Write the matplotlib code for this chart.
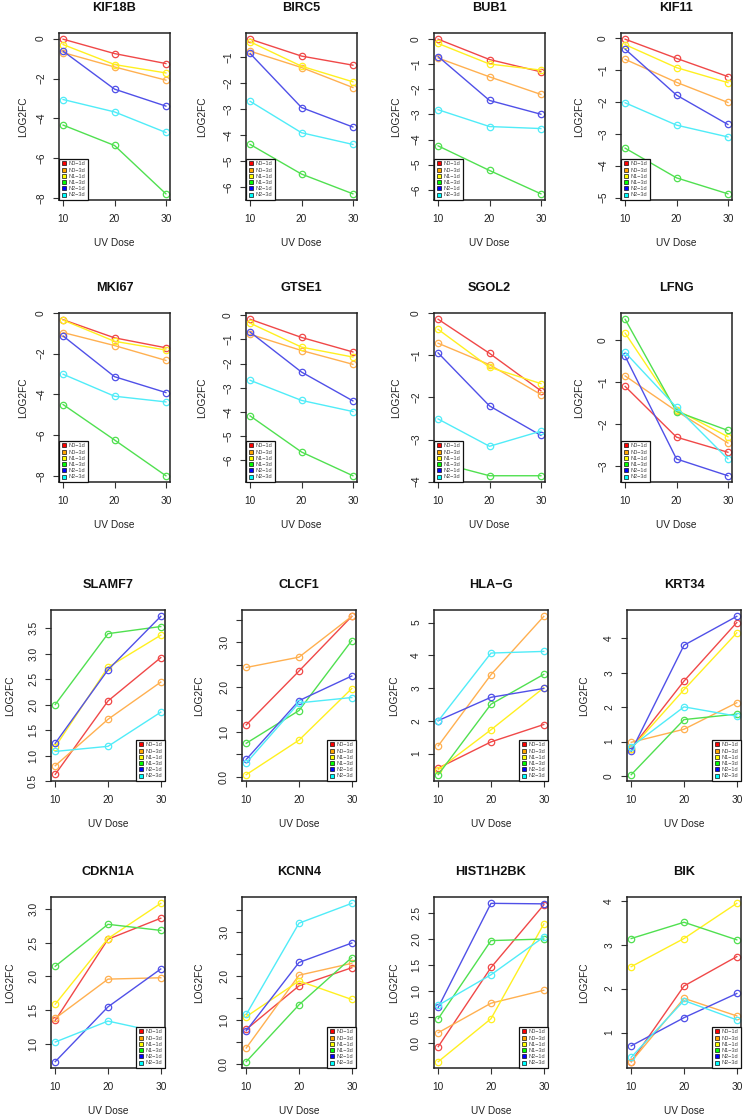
import matplotlib
matplotlib.use('Agg')
import matplotlib.pyplot as plt
from matplotlib.lines import Line2D

plt.rcParams['font.family'] = ['Liberation Sans', 'DejaVu Sans']

W, H = 745, 1119

dose = [10, 20, 30]
series = ['N0\u22121d', 'N0\u22123d', 'N1\u22121d', 'N1\u22123d', 'N2\u22121d', 'N2\u22123d']
colors = ['#FF0000', '#FFA500', '#FFFF00', '#00FF00', '#0000FF', '#00FFFF']
line_colors = ['#F04848', '#FFB050', '#FFF020', '#50E050', '#5050E8', '#50ECF8']

# values per gene: rows = series (N0-1d, N0-3d, N1-1d, N1-3d, N2-1d, N2-3d), cols = dose 10/20/30
kif18b = [[-0.03, -0.75, -1.25], [-0.70, -1.42, -2.08], [-0.30, -1.30, -1.72],
          [-4.33, -5.35, -7.77], [-0.63, -2.53, -3.38], [-3.05, -3.67, -4.70]]
birc5 = [[-0.32, -0.97, -1.32], [-0.78, -1.41, -2.18], [-0.42, -1.36, -1.96],
         [-4.37, -5.51, -6.27], [-0.87, -2.95, -3.70], [-2.71, -3.92, -4.37]]
bub1 = [[0.00, -0.81, -1.30], [-0.75, -1.50, -2.20], [-0.17, -0.99, -1.23],
        [-4.25, -5.23, -6.16], [-0.69, -2.44, -2.99], [-2.81, -3.48, -3.56]]
kif11 = [[-0.04, -0.64, -1.21], [-0.67, -1.39, -2.02], [-0.21, -0.93, -1.40],
         [-3.45, -4.38, -4.88], [-0.35, -1.79, -2.71], [-2.03, -2.73, -3.10]]
mki67 = [[-0.33, -1.22, -1.71], [-0.96, -1.60, -2.33], [-0.35, -1.39, -1.82],
         [-4.50, -6.24, -8.00], [-1.13, -3.13, -3.91], [-3.01, -4.09, -4.37]]
gtse1 = [[-0.17, -0.92, -1.52], [-0.79, -1.46, -2.03], [-0.33, -1.32, -1.73],
         [-4.16, -5.65, -6.63], [-0.70, -2.35, -3.54], [-2.69, -3.52, -3.98]]
sgol2 = [[-0.14, -0.95, -1.84], [-0.71, -1.22, -1.93], [-0.38, -1.28, -1.67],
         [-3.54, -3.86, -3.86], [-0.94, -2.20, -2.90], [-2.51, -3.16, -2.80]]
lfng = [[-1.10, -2.31, -2.67], [-0.85, -1.69, -2.45], [0.17, -1.66, -2.30],
        [0.50, -1.70, -2.15], [-0.38, -2.83, -3.23], [-0.29, -1.60, -2.83]]
slamf7 = [[0.63, 2.07, 2.92], [0.80, 1.71, 2.44], [1.17, 2.73, 3.36],
          [2.00, 3.39, 3.53], [1.24, 2.68, 3.73], [1.08, 1.18, 1.85]]
clcf1 = [[1.16, 2.36, 3.58], [2.44, 2.67, 3.58], [0.05, 0.82, 1.97],
         [0.75, 1.48, 3.04], [0.39, 1.70, 2.25], [0.31, 1.65, 1.77]]
hlag = [[0.56, 1.36, 1.89], [1.24, 3.41, 5.19], [0.51, 1.73, 3.01],
        [0.36, 2.51, 3.42], [2.01, 2.72, 2.99], [2.00, 4.07, 4.12]]
krt34 = [[0.80, 2.76, 4.46], [0.98, 1.36, 2.13], [0.80, 2.51, 4.16],
         [0.04, 1.64, 1.80], [0.72, 3.80, 4.64], [0.85, 2.01, 1.74]]
cdkn1a = [[1.35, 2.55, 2.86], [1.38, 1.96, 1.98], [1.59, 2.56, 3.08],
          [2.15, 2.77, 2.68], [0.74, 1.55, 2.11], [1.03, 1.34, 1.17]]
kcnn4 = [[0.79, 1.78, 2.19], [0.37, 2.02, 2.29], [1.08, 1.89, 1.47],
         [0.06, 1.35, 2.42], [0.76, 2.31, 2.75], [1.13, 3.20, 3.65]]
hist1h2bk = [[-0.08, 1.45, 2.66], [0.19, 0.76, 1.01], [-0.37, 0.46, 2.29],
             [0.46, 1.97, 2.00], [0.68, 2.69, 2.68], [0.72, 1.31, 2.04]]
bik = [[0.34, 2.06, 2.73], [0.34, 1.78, 1.38], [2.50, 3.14, 3.94],
       [3.14, 3.51, 3.11], [0.70, 1.34, 1.89], [0.44, 1.73, 1.29]]

genes = ['KIF18B', 'BIRC5', 'BUB1', 'KIF11',
         'MKI67', 'GTSE1', 'SGOL2', 'LFNG',
         'SLAMF7', 'CLCF1', 'HLA\u2212G', 'KRT34',
         'CDKN1A', 'KCNN4', 'HIST1H2BK', 'BIK']
gene_values = [kif18b, birc5, bub1, kif11, mki67, gtse1, sgol2, lfng,
               slamf7, clcf1, hlag, krt34, cdkn1a, kcnn4, hist1h2bk, bik]

M = '\u2212'
ytick_values = [
    [0, -2, -4, -6, -8], [-1, -2, -3, -4, -5, -6], [0, -1, -2, -3, -4, -5, -6], [0, -1, -2, -3, -4, -5],
    [0, -2, -4, -6, -8], [0, -1, -2, -3, -4, -5, -6], [0, -1, -2, -3, -4], [0, -1, -2, -3],
    [0.5, 1.0, 1.5, 2.0, 2.5, 3.0, 3.5], [0.0, 0.5, 1.0, 1.5, 2.0, 2.5, 3.0, 3.5], [1, 2, 3, 4, 5], [0, 1, 2, 3, 4],
    [1.0, 1.5, 2.0, 2.5, 3.0], [0.0, 0.5, 1.0, 1.5, 2.0, 2.5, 3.0, 3.5], [0.0, 0.5, 1.0, 1.5, 2.0, 2.5], [1, 2, 3, 4],
]
ytick_labels = [
    ['0', M+'2', M+'4', M+'6', M+'8'], [M+'1', M+'2', M+'3', M+'4', M+'5', M+'6'],
    ['0', M+'1', M+'2', M+'3', M+'4', M+'5', M+'6'], ['0', M+'1', M+'2', M+'3', M+'4', M+'5'],
    ['0', M+'2', M+'4', M+'6', M+'8'], ['0', M+'1', M+'2', M+'3', M+'4', M+'5', M+'6'],
    ['0', M+'1', M+'2', M+'3', M+'4'], ['0', M+'1', M+'2', M+'3'],
    ['0.5', '1.0', '1.5', '2.0', '2.5', '3.0', '3.5'], ['0.0', '', '1.0', '', '2.0', '', '3.0', ''],
    ['1', '2', '3', '4', '5'], ['0', '1', '2', '3', '4'],
    ['1.0', '1.5', '2.0', '2.5', '3.0'], ['0.0', '', '1.0', '', '2.0', '', '3.0', ''],
    ['0.0', '0.5', '1.0', '1.5', '2.0', '2.5'], ['1', '2', '3', '4'],
]
xtick_labels = ['10', '20', '30']

# layout (pixel boxes)
row_bounds = [(33, 200), (313, 482), (610, 781), (897, 1068)]
col_lefts_top = [59, 246, 434, 621]
col_lefts_bot = [51, 242, 434, 627]
ylab_off_top = [36, 44, 38, 42]
ylab_off_bot = [41, 43, 40, 43]
w_top, w_bot = 111, 114

fig = plt.figure(figsize=(W / 100, H / 100), dpi=100)
fig.patch.set_facecolor('white')

FS = 7.3
for i, (gene, vals) in enumerate(zip(genes, gene_values)):
    r, c = divmod(i, 4)
    top, bot = row_bounds[r]
    if r < 2:
        left, wpx, yoff = col_lefts_top[c], w_top, ylab_off_top[c]
    else:
        left, wpx, yoff = col_lefts_bot[c], w_bot, ylab_off_bot[c]
    hpx = bot - top
    ax = fig.add_axes([left / W, 1 - bot / H, wpx / W, hpx / H])
    for k in range(len(series)):
        ax.plot(dose, vals[k], color=line_colors[k], lw=1.0,
                marker='o', markersize=4.6, markerfacecolor='none',
                markeredgewidth=0.9, markeredgecolor=line_colors[k])
    ax.margins(x=0.04, y=0.04)
    ax.set_xticks(dose)
    ax.set_xticklabels(xtick_labels)
    ax.set_yticks(ytick_values[i])
    ax.set_yticklabels(ytick_labels[i])
    ax.tick_params(axis='both', direction='out', length=4.3, width=0.8, color='#333333',
                   labelsize=FS, labelcolor='#222222')
    ax.tick_params(axis='y', labelrotation=90, pad=5)
    ax.tick_params(axis='x', pad=6)
    for lbl in ax.get_yticklabels():
        lbl.set_va('center')
    for sp in ax.spines.values():
        sp.set_linewidth(1.1)
        sp.set_color('#222222')
    # texts
    ax.text(0.5, 1 + 25 / hpx, gene, transform=ax.transAxes, ha='center', va='center',
            fontsize=9.2, fontweight='bold', color='#111111')
    ax.text(0.5, -43 / hpx, 'UV Dose', transform=ax.transAxes, ha='center', va='center',
            fontsize=FS, color='#222222')
    ax.text(-yoff / wpx, 0.5, 'LOG2FC', transform=ax.transAxes, ha='center', va='center',
            rotation=90, fontsize=FS, color='#222222')
    handles = [Line2D([], [], linestyle='none', marker='s', markersize=2.6,
                      markerfacecolor=colors[k], markeredgecolor='#111111',
                      markeredgewidth=0.5) for k in range(len(series))]
    leg = ax.legend(handles, series, loc='lower left' if r < 2 else 'lower right',
                    fontsize=4.0, frameon=True, fancybox=False, framealpha=1,
                    borderaxespad=0, borderpad=0.45, labelspacing=0.22,
                    handlelength=0.8, handletextpad=0.5, labelcolor='#444444')
    leg.get_frame().set_edgecolor('#111111')
    leg.get_frame().set_linewidth(0.9)

fig.savefig('out.png', dpi=100, facecolor='white')
